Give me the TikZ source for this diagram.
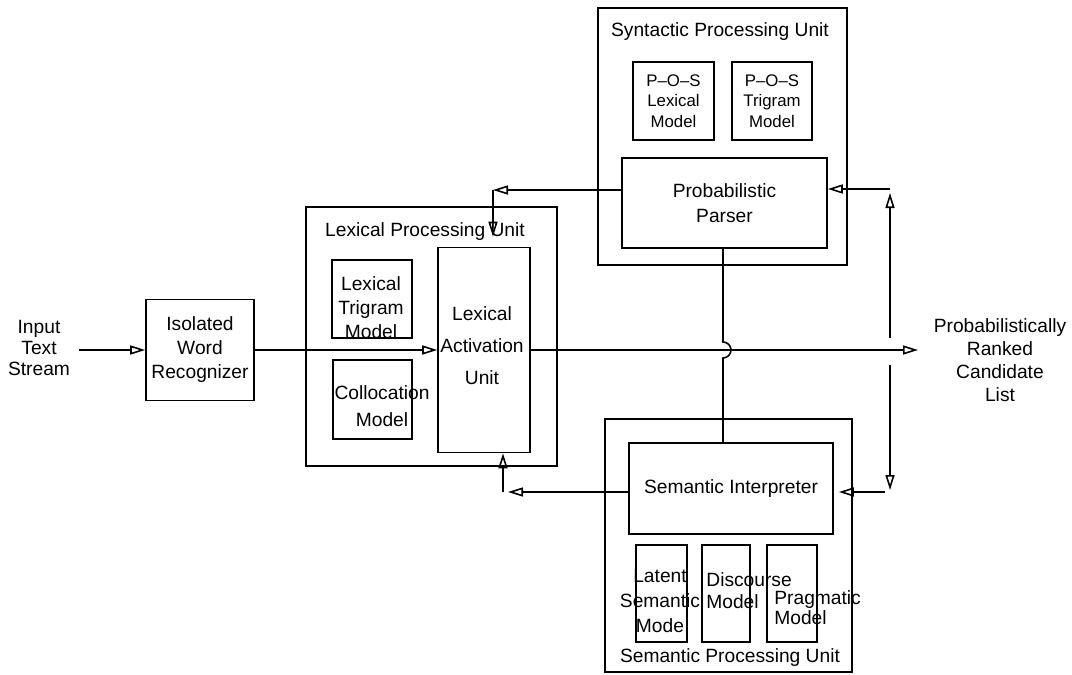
\documentclass[tikz,border=0pt]{standalone}
\usepackage{fontspec}
\setmainfont{Liberation Sans}
\usetikzlibrary{arrows.meta,calc}

\begin{document}
\begin{tikzpicture}[x=0.5pt,y=-0.5pt,
  bx/.style 2 args={draw, line width=0.8pt, inner sep=0pt,
    minimum width=#1*0.5pt, minimum height=#2*0.5pt, align=center},
  ls/.style={font=\fontsize{9.6}{#1}\selectfont},
  sm/.style={font=\fontsize{8.4}{#1}\selectfont},
  tx/.style={inner sep=0pt, align=center},
  ln/.style={line width=0.8pt},
  arr/.style={ln, -{Triangle[open,length=7.5pt,width=4.5pt]}}
]
\useasboundingbox (0,0) rectangle (1072,675);

% ---- input and word recognizer
\node[tx, ls=10.5] (input) at (39,348) {Input\\Text\\Stream};
\node[bx={108}{101}, ls=12] (iwr) at (200,350) {Isolated\\Word\\Recognizer};

% ---- lexical processing unit
\node[bx={251}{259}] (lex) at (431.5,336.5) {};
\node[tx, ls=12] (lexT) at (425,232) {Lexical Processing Unit};
\node[bx={80}{78}] (ltm) at (372,299) {};
\node[tx, ls=12] (ltmT) at (371,308) {Lexical\\Trigram\\Model};
\node[bx={79}{79}] (col) at (372.5,399.5) {};
\node[tx, ls=13.5] (colT) at (382,406) {Collocation\\Model};
\node[bx={92}{205}] (act) at (484,350) {};
\node[tx, ls=16] (actT) at (482,346) {Lexical\\Activation\\Unit};

% ---- syntactic processing unit
\node[bx={249}{257}] (syn) at (722.5,136.5) {};
\node[tx, ls=12] (synT) at (720,32) {Syntactic Processing Unit};
\node[bx={81}{78}, sm=10.25] (posl) at (673.5,101) {P--O--S\\Lexical\\Model};
\node[bx={80}{78}, sm=10.25] (post) at (772,101) {P--O--S\\Trigram\\Model};
\node[bx={205}{90}, ls=12.5] (parser) at (724.5,203) {Probabilistic\\Parser};

% ---- semantic processing unit
\node[bx={247}{253}] (sem) at (728.5,545.5) {};
\node[tx, ls=12] (semT) at (730,658) {Semantic Processing Unit};
\node[bx={204}{91}, ls=12] (si) at (731,488.5) {Semantic Interpreter};
\node[bx={51}{97}] (lsm) at (661.5,593.5) {};
\node[tx, ls=12.5] (lsmT) at (660,601) {Latent\\Semantic\\Mode};
\node[bx={48}{97}] (dm) at (726,593.5) {};
\node[tx, ls=11, align=left, anchor=west] (dmT) at (706,591) {Discourse\\Model};
\node[bx={50}{97}] (pm) at (792,593.5) {};
\node[tx, ls=8.5, align=left, anchor=west] (pmT) at (774,608) {Pragmatic\\Model};

% ---- output
\node[tx, ls=11.5] (cand) at (1000,360) {Probabilistically\\Ranked\\Candidate\\List};

% ---- connection points
\coordinate (fbA) at (493,190);
\coordinate (fbB) at (503,492);
\coordinate (vx) at (723,350);
\coordinate (rv) at (890,350);
\coordinate (rvTop) at (890,193);
\coordinate (rvBot) at (890,490);
\coordinate (synIn) at (890,189);
\coordinate (semIn) at (885,492);
\coordinate (outTip) at (918,350);

% ---- main data path
\draw[arr, shorten <=4.5pt] (input.east |- iwr.west) -- (iwr.west);
\draw[arr] (iwr.east) -- (act.west);
\draw[arr] (act.east) -- (outTip);

% ---- feedback from parser and interpreter
\draw[arr] (parser.west |- fbA) -- (fbA);
\draw[arr, shorten >=5pt] (fbA) -- (fbA |- act.north);
\draw[arr, shorten >=2.5pt] (si.west |- fbB) -- (fbB);
\draw[arr] (fbB) -- (fbB |- act.south);

% ---- parser to interpreter, hopping over the main path
\draw[ln] (parser.south -| vx) -- ($(vx)+(0,-8)$)
  arc[start angle=-90, end angle=90, radius=8] -- (si.north -| vx);

% ---- candidate list fed back to both units
\draw[arr, shorten <=6pt] (rv) -- (rvTop);
\draw[arr, shorten <=7.5pt] (rv) -- (rvBot);
\draw[arr] (synIn) -- (synIn -| parser.east);
\draw[arr, shorten >=2.5pt] (semIn) -- (semIn -| si.east);
\end{tikzpicture}
\end{document}
